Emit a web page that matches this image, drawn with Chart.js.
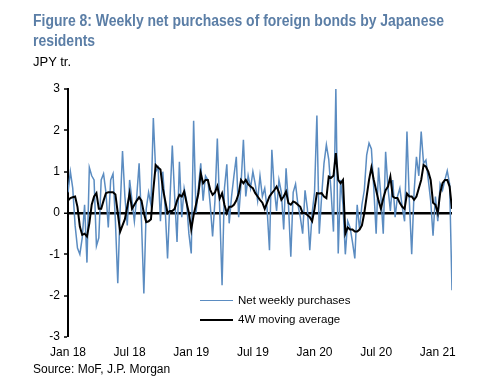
<!DOCTYPE html>
<html>
<head>
<meta charset="utf-8">
<script src="https://cdn.jsdelivr.net/npm/chart.js@4"></script>
<style>
  body { margin: 0; background: #fff; font-family: "Liberation Sans", Arial, sans-serif; }
  #wrap { position: relative; width: 500px; height: 383px; overflow: hidden; }
  #chart { position: absolute; left: 0; top: 0; }
  .title { position: absolute; left: 33px; color: #5b7ea6; font-weight: bold; font-size: 16px; line-height: 20px; white-space: nowrap; transform-origin: 0 0; }
  .unit { position: absolute; left: 33px; top: 54px; font-size: 13px; color: #000; }
  .source { position: absolute; left: 33px; top: 362px; font-size: 12px; color: #000; }
  .leg { position: absolute; left: 200px; font-size: 11.5px; color: #000; line-height: 14px; white-space: nowrap; }
  .leg span { display: inline-block; width: 33px; vertical-align: middle; margin-right: 5px; }
</style>
</head>
<body>
<div id="wrap">
  <canvas id="chart" width="500" height="383"></canvas>
  <div class="title" id="t1" style="top: 11px;">Figure 8: Weekly net purchases of foreign bonds by Japanese</div>
  <div class="title" id="t2" style="top: 31px;">residents</div>
  <div class="unit">JPY tr.</div>
  <div class="leg" style="top: 293px;"><span style="border-top: 1.5px solid #5b8cc1;"></span>Net weekly purchases</div>
  <div class="leg" style="top: 312px;"><span style="border-top: 2.5px solid #000;"></span>4W moving average</div>
  <div class="source">Source: MoF, J.P. Morgan</div>
</div>
<script>
// squeeze the title to the width it has in the original (narrow font there)
const t1 = document.getElementById('t1');
const squeeze = 411 / t1.offsetWidth;
t1.style.transform = 'scaleX(' + squeeze + ')';
document.getElementById('t2').style.transform = 'scaleX(' + squeeze + ')';

// x tick labels, one every 26 weeks starting Jan 2018
const tickLabels = ['Jan 18', 'Jul 18', 'Jan 19', 'Jul 19', 'Jan 20', 'Jul 20', 'Jan 21'];

// net weekly purchases, JPY tr.
const weekly = [
  0.5, 1.0, 0.6, -0.3, -0.85, -1.0, -0.6, 0.2, -1.2, 1.1,
  0.9, 0.8, -0.8, -0.6, 0.8, 0.95, 0.5, -0.35, 0.8, 0.95,
  -0.2, -1.7, 0.1, 1.5, 0.4, -0.3, 0.8, 0.3, -0.2, 0.4,
  1.2, -0.2, -1.95, 0.1, 0.5, 0.2, 2.3, 1.0, 1.1, -0.2,
  1.0, 0.1, -1.1, 0.3, 1.63, 0.4, -0.7, 1.24, -0.1, 0.6,
  0.3, -0.5, -0.98, 2.23, 0.0, 0.6, 1.2, 0.3, 0.9, 0.8,
  0.2, -0.57, 0.3, 1.8, 0.1, -1.75, 0.6, 1.18, -0.25, 0.4,
  0.9, 1.36, -0.1, 0.7, 1.77, 0.4, 0.9, 0.6, 1.0, 0.7,
  0.3, 0.9, 0.4, 0.6, 0.1, -0.9, 1.53, 0.6, 0.05, 0.8,
  0.5, -0.4, 1.08, 0.2, -1.06, 0.5, 0.7, 0.2, -0.1, -0.5,
  0.55, 0.1, -0.9, 0.0, 0.5, 2.36, -0.5, 0.4, 1.2, 1.65,
  1.3, 0.5, -0.45, 3.0, -0.98, 0.8, 0.2, -1.0, -0.2, -0.35,
  -0.7, -1.1, 0.2, -0.4, 0.2, 0.55, 1.4, 1.69, 1.55, 0.6,
  -0.5, 1.1, 0.4, -0.5, 1.48, 0.6, 0.05, 0.8, -0.1, 0.4,
  0.6, 0.15, -0.2, 1.97, 0.3, -1.0, 0.5, 1.36, 0.9, 1.97,
  1.2, 1.28, 0.8, 0.3, -0.55, 0.4, -0.2, 0.7, 0.55, 0.8,
  1.02, 0.7, -1.87
];

// 4-week moving average
const movingAvg = [
  0.3, 0.36, 0.38, 0.4, 0.15, -0.33, -0.53, -0.5, -0.57, -0.25,
  0.2, 0.4, 0.48, 0.1, 0.1, 0.3, 0.48, 0.5, 0.5, 0.5,
  0.45, 0.0, -0.45, -0.3, -0.15, 0.15, 0.48, 0.1, 0.2, 0.3,
  0.38, 0.3, 0.0, -0.22, -0.2, -0.15, 0.56, 1.16, 1.1, 1.05,
  0.6, 0.3, 0.0, 0.05, 0.05, 0.1, 0.3, 0.44, 0.4, 0.52,
  0.25, 0.0, -0.4, -0.05, 0.2, 0.47, 0.96, 0.72, 0.8, 0.8,
  0.56, 0.44, 0.5, 0.65, 0.35, 0.48, 0.2, 0.0, 0.15, 0.15,
  0.2, 0.3, 0.47, 0.8, 0.72, 0.8, 0.7, 0.64, 0.6, 0.48,
  0.4, 0.32, 0.25, 0.1, 0.25, 0.4, 0.48, 0.55, 0.64, 0.5,
  0.32, 0.4, 0.52, 0.24, 0.2, 0.28, 0.25, 0.2, 0.15, 0.0,
  0.0, -0.05, -0.1, -0.2, 0.1, 0.48, 0.47, 0.48, 0.4, 0.36,
  0.88, 0.85, 0.9, 1.45, 0.8, 0.72, 0.8, -0.5, -0.35, -0.4,
  -0.4, -0.45, -0.45, -0.4, -0.3, 0.0, 0.4, 0.8, 1.1, 0.8,
  0.55, 0.3, 0.1, 0.35, 0.55, 0.64, 0.88, 0.4, 0.36, 0.36,
  0.24, 0.15, 0.1, 0.47, 0.4, 0.4, 0.32, 0.4, 0.6, 0.8,
  1.16, 1.12, 1.0, 0.8, 0.25, 0.2, 0.0, 0.48, 0.72, 0.8,
  0.8, 0.64, 0.1
];

const toPoints = arr => arr.map((v, i) => ({ x: i, y: v }));
const tickFont = { family: '"Liberation Sans", Arial, sans-serif', size: 12 };

new Chart(document.getElementById('chart'), {
  type: 'line',
  data: {
    datasets: [
      {
        label: '4W moving average',
        data: toPoints(movingAvg),
        borderColor: '#000',
        borderWidth: 2,
        pointRadius: 0,
        tension: 0
      },
      {
        label: 'Net weekly purchases',
        data: toPoints(weekly),
        borderColor: '#5b8cc1',
        borderWidth: 1.5,
        pointRadius: 0,
        tension: 0
      }
    ]
  },
  options: {
    responsive: false,
    animation: false,
    devicePixelRatio: 1,
    layout: { padding: { top: 89, right: 48, left: 0, bottom: 0 } },
    plugins: { legend: { display: false }, tooltip: { enabled: false } },
    scales: {
      x: {
        type: 'linear',
        min: 0,
        max: weekly.length - 1,
        border: { display: false },
        grid: { display: false },
        ticks: {
          stepSize: 26,
          includeBounds: false,
          autoSkip: false,
          maxRotation: 0,
          padding: 0,
          color: '#000',
          font: tickFont,
          callback: v => tickLabels[v / 26] || ''
        },
        afterFit: s => { s.height = 46; }
      },
      y: {
        min: -3,
        max: 3,
        border: { display: true, color: '#000', width: 2 },
        grid: {
          color: c => (c.tick && c.tick.value === 0 ? '#000' : 'rgba(0,0,0,0)'),
          lineWidth: c => (c.tick && c.tick.value === 0 ? 2.5 : 0),
          tickColor: '#000',
          tickLength: 4,
          tickWidth: 1.5
        },
        ticks: { stepSize: 1, color: '#000', font: tickFont, padding: 4 },
        afterFit: s => { s.width = 68; }
      }
    }
  }
});
</script>
</body>
</html>
